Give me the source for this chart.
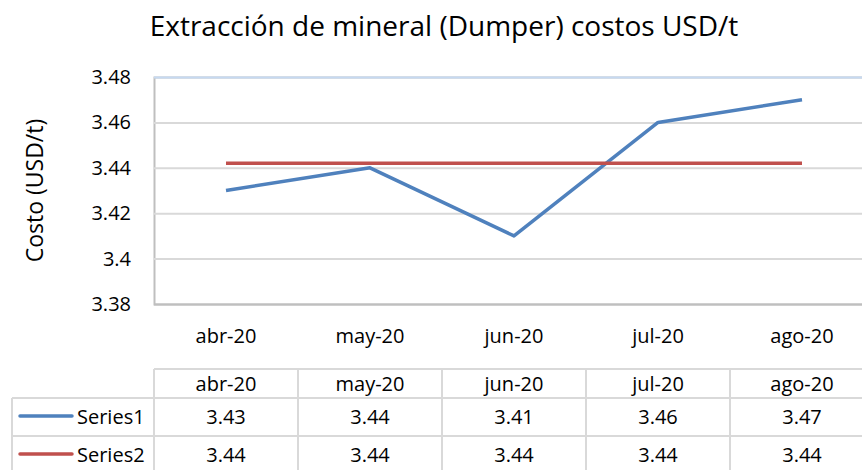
<!DOCTYPE html>
<html>
<head>
<meta charset="utf-8">
<script src="https://cdn.jsdelivr.net/npm/d3@7"></script>
<style>
  body { margin: 0; background: #fff; }
  svg { font-family: "Open Sans", sans-serif; }
</style>
</head>
<body>
<div id="chart"></div>
<script>
let months = ["abr-20", "may-20", "jun-20", "jul-20", "ago-20"];
let series1 = [3.43, 3.44, 3.41, 3.46, 3.47];
let series2 = [3.442, 3.442, 3.442, 3.442, 3.442];
let seriesNames = ["Series1", "Series2"];
let yTicks = [3.38, 3.4, 3.42, 3.44, 3.46, 3.48];

let width = 862;
let height = 470;
let margin = { top: 77, right: -12, bottom: 166, left: 154 };
let colors = ["#4f81bd", "#c0504d"];
let fs = 20;

const svg = d3
  .select("#chart")
  .append("svg")
  .attr("width", width)
  .attr("height", height);

const xScale = d3
  .scaleBand()
  .domain(months)
  .range([margin.left, width - margin.right]);

const yScale = d3
  .scaleLinear()
  .domain([3.38, 3.48])
  .range([height - margin.bottom, margin.top]);

// title
svg
  .append("text")
  .attr("x", 444)
  .attr("y", 36)
  .attr("text-anchor", "middle")
  .attr("font-size", 28)
  .attr("fill", "#000")
  .text("Extracción de mineral (Dumper) costos USD/t");

// grid
const yGrid = d3
  .axisLeft(yScale)
  .tickValues(yTicks)
  .tickSize(-(width - margin.right - margin.left))
  .tickFormat((d) => d3.format("")(+d.toFixed(2)))
  .tickPadding(23);

const gy = svg
  .append("g")
  .attr("transform", `translate(${margin.left},0)`)
  .call(yGrid);
gy.select(".domain").attr("stroke", "#bfbfbf").attr("stroke-width", 2);
gy.selectAll(".tick line").attr("stroke", "#d9d9d9").attr("stroke-width", 2);
gy.selectAll(".tick")
  .filter((d) => d === 3.48)
  .select("line")
  .attr("stroke", "#c6d9f1");
gy.selectAll(".tick")
  .filter((d) => d === 3.38)
  .select("line")
  .attr("stroke", "#bfbfbf");
gy.selectAll(".tick text")
  .attr("font-size", fs)
  .attr("fill", "#000")
  .attr("font-family", "Open Sans, sans-serif");

// y axis title
svg
  .append("text")
  .attr("text-anchor", "middle")
  .attr("transform", `translate(43,${(margin.top + height - margin.bottom) / 2}) rotate(-90)`)
  .attr("font-size", 23)
  .text("Costo (USD/t)");

// category labels
svg
  .append("g")
  .selectAll("text")
  .data(months)
  .enter()
  .append("text")
  .attr("x", (d) => xScale(d) + xScale.bandwidth() / 2)
  .attr("y", 343)
  .attr("text-anchor", "middle")
  .attr("font-size", fs)
  .text((d) => d);

// lines
[series1, series2].forEach((vals, i) => {
  const line = d3
    .line()
    .x((d, j) => xScale(months[j]) + xScale.bandwidth() / 2)
    .y((d) => yScale(d));
  svg
    .append("path")
    .datum(vals)
    .attr("fill", "none")
    .attr("stroke", colors[i])
    .attr("stroke-width", 3.5)
    .attr("stroke-linejoin", "round")
    .attr("d", line);
});

// data table
const tableLeft = 12;
const rowTops = [369, 398, 436];
const rowH = [29, 38, 38];
const grid = svg.append("g").attr("stroke", "#d9d9d9").attr("stroke-width", 2);

// header top line
grid.append("line")
  .attr("x1", margin.left).attr("x2", width)
  .attr("y1", rowTops[0]).attr("y2", rowTops[0]);
// row lines
rowTops.slice(1).forEach((y) => {
  grid.append("line")
    .attr("x1", tableLeft).attr("x2", width)
    .attr("y1", y).attr("y2", y);
});
// left legend border
grid.append("line")
  .attr("x1", tableLeft).attr("x2", tableLeft)
  .attr("y1", rowTops[1]).attr("y2", height);
// column lines
months.forEach((m) => {
  grid.append("line")
    .attr("x1", xScale(m)).attr("x2", xScale(m))
    .attr("y1", rowTops[0]).attr("y2", height);
});

// header row
svg
  .append("g")
  .selectAll("text")
  .data(months)
  .enter()
  .append("text")
  .attr("x", (d) => xScale(d) + xScale.bandwidth() / 2)
  .attr("y", 391)
  .attr("text-anchor", "middle")
  .attr("font-size", fs)
  .text((d) => d);

// series rows
[series1, series2].forEach((vals, i) => {
  const yMid = rowTops[i + 1] + rowH[i + 1] / 2;
  svg.append("line")
    .attr("x1", 20).attr("x2", 72)
    .attr("y1", yMid - 1).attr("y2", yMid - 1)
    .attr("stroke", colors[i])
    .attr("stroke-width", 3.5)
    .attr("stroke-linecap", "round");
  svg.append("text")
    .attr("x", 77)
    .attr("y", yMid + 7)
    .attr("font-size", fs)
    .text(seriesNames[i]);
  svg.append("g")
    .selectAll("text")
    .data(vals)
    .enter()
    .append("text")
    .attr("x", (d, j) => xScale(months[j]) + xScale.bandwidth() / 2)
    .attr("y", yMid + 7)
    .attr("text-anchor", "middle")
    .attr("font-size", fs)
    .text((d) => d.toFixed(2));
});
</script>
</body>
</html>
